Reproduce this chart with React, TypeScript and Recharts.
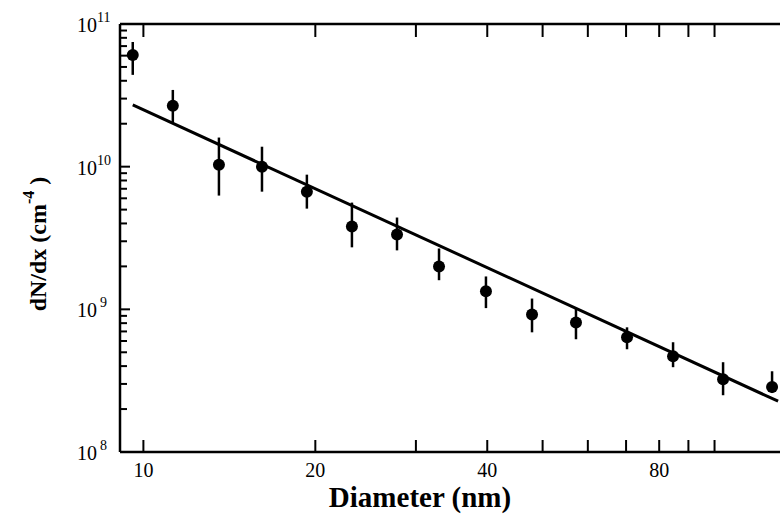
import React from 'react';
import { ScatterChart, Scatter, XAxis, YAxis, ErrorBar } from 'recharts';

const diameters = [9.58, 11.26, 13.56, 16.13, 19.33, 23.18, 27.8, 32.93, 39.79, 47.91, 57.2, 70.27, 84.6, 103.5, 126.1];
const densities = [6.07e10, 2.67e10, 1.03e10, 1.0e10, 6.68e9, 3.8e9, 3.35e9, 2.0e9, 1.34e9, 9.2e8, 8.1e8, 6.37e8, 4.69e8, 3.24e8, 2.85e8];
const upperBounds = [7.48e10, 3.45e10, 1.6e10, 1.38e10, 8.79e9, 5.6e9, 4.4e9, 2.67e9, 1.7e9, 1.19e9, 1.02e9, 7.48e8, 5.88e8, 4.26e8, 3.68e8];
const lowerBounds = [4.4e10, 2.03e10, 6.27e9, 6.68e9, 5.08e9, 2.72e9, 2.59e9, 1.6e9, 1.02e9, 6.9e8, 6.17e8, 5.25e8, 3.93e8, 2.5e8, 2.59e8];

// power-law fit endpoints
const fitDiameters = [9.58, 129.2];
const fitValues = [2.71e10, 2.27e8];

const xDomain = [9.1, 130.2];
const yDomain = [1e8, 1e11];
const xTicks = [10, 20, 30, 40, 50, 60, 70, 80, 90, 100];
const xLabeled = [10, 20, 40, 80];
const yDecades = [8, 9, 10, 11];

const yTicks: number[] = [];
yDecades.forEach((d) => {
  if (d === 11) {
    yTicks.push(1e11);
    return;
  }
  for (let m = 1; m < 10; m++) yTicks.push(m * Math.pow(10, d));
});

const points = diameters.map((x, i) => ({
  x,
  y: densities[i],
  err: [densities[i] - lowerBounds[i], upperBounds[i] - densities[i]],
}));
const fit = fitDiameters.map((x, i) => ({ x, y: fitValues[i] }));
// inward ticks along the left frame, placed through the chart scales
const leftMarks = yTicks.map((y) => ({ x: xDomain[0], y, major: Number.isInteger(Math.log10(y)) }));

const FONT = 'Liberation Serif, DejaVu Serif, serif';

const YTick = (props: any) => {
  const { x, y, payload } = props;
  const exp = Math.log10(payload.value);
  if (!Number.isInteger(exp)) return <g />;
  return (
    <text x={x} y={y + 8} fontFamily={FONT} fontSize={20} fill="#000">
      10
      <tspan dx={exp < 10 ? 3 : 0} dy={-10} fontSize={14}>{exp}</tspan>
    </text>
  );
};

const XTitle = () => (
  <text x={420} y={507} textAnchor="middle" fontFamily={FONT} fontSize={29} fontWeight="bold" fill="#000">
    Diameter (nm)
  </text>
);

const YTitle = () => (
  <text
    x={38}
    y={244}
    transform="rotate(-90, 38, 244)"
    textAnchor="middle"
    dominantBaseline="central"
    fontFamily={FONT}
    fontSize={24}
    fontWeight="bold"
    fill="#000"
  >
    dN/dx (cm
    <tspan dy={-10} fontSize={16}>-4</tspan>
    <tspan dy={10}> )</tspan>
  </text>
);

const Dot = (props: any) => <circle cx={props.cx} cy={props.cy} r={6} fill="#000" />;
const Mark = (props: any) => (
  <line
    x1={props.cx}
    x2={props.cx + (props.payload?.major ? 10 : 7)}
    y1={props.cy}
    y2={props.cy}
    stroke="#000"
    strokeWidth={2}
  />
);

export default function App() {
  return (
    <div style={{ position: 'absolute', left: 0, top: 0, background: '#fff' }}>
      <ScatterChart width={780} height={525} margin={{ top: 23, right: 0, left: 0, bottom: 0 }}>
        <XAxis
          type="number"
          dataKey="x"
          scale="log"
          domain={xDomain}
          allowDataOverflow
          ticks={xTicks}
          tickFormatter={(v: number) => (xLabeled.includes(v) ? String(v) : '')}
          height={73}
          tickSize={-12}
          tickMargin={23}
          axisLine={{ stroke: '#000', strokeWidth: 2.5 }}
          tickLine={{ stroke: '#000', strokeWidth: 2 }}
          tick={{ fill: '#000', fontFamily: FONT, fontSize: 20 }}
          label={<XTitle />}
        />
        <XAxis
          xAxisId="top"
          orientation="top"
          type="number"
          dataKey="x"
          scale="log"
          domain={xDomain}
          allowDataOverflow
          ticks={xTicks}
          tickFormatter={() => ''}
          height={1}
          tickSize={-13}
          axisLine={{ stroke: '#000', strokeWidth: 2.5 }}
          tickLine={{ stroke: '#000', strokeWidth: 2 }}
        />
        <YAxis
          type="number"
          dataKey="y"
          scale="log"
          domain={yDomain}
          allowDataOverflow
          ticks={yTicks}
          width={120}
          tickSize={0}
          tickMargin={43}
          axisLine={{ stroke: '#000', strokeWidth: 2.5 }}
          tickLine={false}
          tick={<YTick />}
          interval={0}
          label={<YTitle />}
        />
        <Scatter xAxisId="top" data={[]} isAnimationActive={false} />
        <Scatter data={leftMarks} shape={<Mark />} isAnimationActive={false} />
        <Scatter
          data={fit}
          line={{ stroke: '#000', strokeWidth: 3 }}
          shape={() => <g />}
          isAnimationActive={false}
        />
        <Scatter data={points} shape={<Dot />} isAnimationActive={false}>
          <ErrorBar dataKey="err" direction="y" width={0} stroke="#000" strokeWidth={2.5} isAnimationActive={false} />
        </Scatter>
      </ScatterChart>
    </div>
  );
}
